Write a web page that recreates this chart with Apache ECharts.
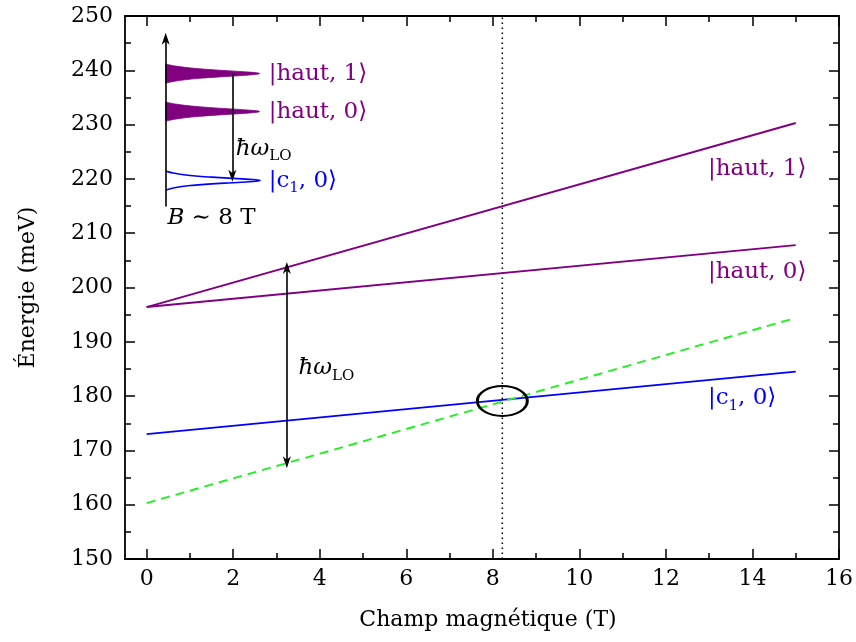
<!DOCTYPE html>
<html><head><meta charset="utf-8">
<script src="https://cdn.jsdelivr.net/npm/echarts@6/dist/echarts.min.js"></script>
<style>html,body{margin:0;padding:0;background:#fff}#c{width:856px;height:642px}</style>
</head><body><div id="c"></div>
<script>
// ---- data ----
const xLine = [0, 15];
const haut1 = [196.4, 230.3];
const haut0 = [196.4, 207.8];
const c1 = [173.0, 184.5];
const lineLO = [160.3, 194.4];           // green dashed (c1 + ħω_LO shift)
const crossField = 8.22;                  // dotted vertical line (T)
const crossEnergy = 179.1;                // ellipse centre (meV)
const xMajor = [0, 2, 4, 6, 8, 10, 12, 14, 16];
const xMinor = [1, 3, 5, 7, 9, 11, 13, 15];
const arrowField = 3.24;                  // double arrow position
const arrowLow = 167.8, arrowHigh = 203.6;
// inset
const peakEnergies = [239.4, 232.4, 219.7];
const peakFilled = [1, 1, 0];
const peakColors = ['#800080', '#800080', '#0000ff'];
const insetAxisX = 0.44, insetAxisLow = 214.9, insetAxisHigh = 245.8;
const peakTipX = 2.61;
const insetArrowX = 1.98, insetArrowFrom = 239.4, insetArrowTo = 220.6;
// text annotations
const labelX = [12.97, 12.97, 12.97, 2.82, 2.82, 2.82, 2.06, 3.51, 0.48];
const labelY = [221.8, 202.9, 179.6, 239.4, 232.4, 219.6, 225.5, 185.1, 212.8];
const labelText = [
  '{m||haut, 1⟩}', '{m||haut, 0⟩}', '{m||c}{s|1}{m|, 0⟩}',
  '{m||haut, 1⟩}', '{m||haut, 0⟩}', '{m||c}{s|1}{m|, 0⟩}',
  '{i|ħω}{s|LO}', '{i|ħω}{s|LO}', '{i|B}{m| ∼ 8 T}'
];
const labelColor = ['#800080', '#800080', '#0000ff', '#800080', '#800080', '#0000ff', '#000', '#000', '#000'];

// ---- chart ----
const FONT = 'DejaVu Serif';
const chart = echarts.init(document.getElementById('c'), null, {renderer: 'canvas'});
const stealth = 'path://M0,14 L5,0 L10,14 L5,10 Z';
const axisLineStyle = {color: '#000', width: 1.8};

function xAxisDef(pos, major, showLine, showLabel) {
  return {
    type: 'value', min: -0.5, max: 16, position: pos,
    axisLine: {show: showLine, onZero: false, lineStyle: axisLineStyle},
    axisTick: {show: true, inside: true, length: major ? 10 : 6, customValues: major ? xMajor : xMinor, lineStyle: {color: '#000', width: 1.5}},
    axisLabel: {show: showLabel, customValues: xMajor, margin: 9, color: '#000', fontFamily: FONT, fontSize: 22},
    splitLine: {show: false},
    name: showLabel ? 'Champ magnétique (T)' : '', nameLocation: 'middle', nameGap: 50,
    nameTextStyle: {color: '#000', fontFamily: FONT, fontSize: 22, padding: [0, 0, 0, 12]}
  };
}
function yAxisDef(pos, showLabel) {
  return {
    type: 'value', min: 150, max: 250, interval: 10, position: pos,
    axisLine: {show: true, onZero: false, lineStyle: axisLineStyle},
    axisTick: {show: true, inside: true, length: 10, lineStyle: {color: '#000', width: 1.5}},
    minorTick: {show: true, splitNumber: 2, length: 6, lineStyle: {color: '#000', width: 1.5}},
    axisLabel: {show: showLabel, margin: 12, color: '#000', fontFamily: FONT, fontSize: 22},
    splitLine: {show: false},
    name: showLabel ? 'Énergie (meV)' : '', nameLocation: 'middle', nameGap: 86,
    nameTextStyle: {color: '#000', fontFamily: FONT, fontSize: 22}
  };
}

const richStyles = {
  m: {fontFamily: FONT, fontSize: 23, lineHeight: 30, verticalAlign: 'middle'},
  s: {fontFamily: FONT, fontSize: 15, lineHeight: 16, verticalAlign: 'bottom'},
  i: {fontFamily: FONT, fontSize: 23, lineHeight: 30, fontStyle: 'italic', verticalAlign: 'middle'}
};

function lineSeries(ys, color, type, name) {
  return {
    type: 'line', name, data: xLine.map((x, i) => [x, ys[i]]), symbol: 'none', silent: true,
    lineStyle: {color, width: 1.9, type}, z: 3
  };
}

const option = {
  animation: false,
  grid: {left: 125, right: 14, top: 16, bottom: 83, containLabel: false},
  xAxis: [xAxisDef('bottom', true, true, true), xAxisDef('bottom', false, false, false),
          xAxisDef('top', true, true, false), xAxisDef('top', false, false, false)],
  yAxis: [yAxisDef('left', true), yAxisDef('right', false)],
  series: [
    lineSeries(haut1, '#800080', 'solid', 'haut1'),
    lineSeries(haut0, '#800080', 'solid', 'haut0'),
    lineSeries(c1, '#0000ff', 'solid', 'c1'),
    lineSeries(lineLO, '#22f022', [9, 6], 'LO'),
    {
      type: 'line', data: [[crossField, 150], [crossField, 250]], symbol: 'none', silent: true,
      lineStyle: {color: '#000', width: 1.5, type: [1.5, 3.5]}, z: 2
    },
    {
      type: 'custom', silent: true, z: 4,
      data: [[crossField, crossEnergy]],
      renderItem: function (params, api) {
        const c = api.coord([api.value(0), api.value(1)]);
        return {type: 'circle', x: c[0], y: c[1], scaleX: 25 / 15, scaleY: 1,
          shape: {cx: 0, cy: 0, r: 15},
          style: {fill: 'none', stroke: '#000', lineWidth: 1.8, strokeNoScale: true}};
      }
    },
    {
      type: 'custom', silent: true, z: 4,
      data: peakEnergies.map((e, i) => [e, peakFilled[i], i]),
      renderItem: function (params, api) {
        const e = api.value(0), filled = api.value(1), idx = api.value(2);
        const base = api.coord([insetAxisX, e]);
        const tip = api.coord([peakTipX, e]);
        const H = tip[0] - base[0];
        const S = 9.6, g = filled ? 4.6 : 3.8;
        const L = y => g * g / (y * y + g * g);
        const L0 = L(S);
        const pts = [];
        for (let k = 0; k <= 80; k++) {
          const yo = -S + (2 * S) * k / 80;
          pts.push([base[0] + H * (L(yo) - L0) / (1 - L0), base[1] + yo]);
        }
        if (filled) {
          return {type: 'polygon', shape: {points: pts}, style: {fill: peakColors[idx], stroke: peakColors[idx], lineWidth: 0.8}};
        }
        return {type: 'polyline', shape: {points: pts}, style: {fill: 'none', stroke: peakColors[idx], lineWidth: 1.6}};
      }
    },
    {
      type: 'line', data: [], silent: true, z: 5,
      markLine: {
        silent: true, animation: false, symbolSize: [8, 12],
        label: {show: false}, emphasis: {disabled: true},
        lineStyle: {color: '#000', width: 1.6, type: 'solid'},
        data: [
          [{coord: [arrowField, arrowLow], symbol: stealth}, {coord: [arrowField, arrowHigh], symbol: stealth}],
          [{coord: [insetAxisX, insetAxisLow], symbol: 'none'}, {coord: [insetAxisX, insetAxisHigh], symbol: stealth}],
          [{coord: [insetArrowX, insetArrowFrom], symbol: 'none'}, {coord: [insetArrowX, insetArrowTo], symbol: stealth}]
        ]
      }
    },
    {
      type: 'custom', silent: true, z: 6,
      data: labelX.map((x, i) => [x, labelY[i], i]),
      renderItem: function (params, api) {
        const i = api.value(2);
        const p = api.coord([api.value(0), api.value(1)]);
        const rich = {};
        for (const k in richStyles) rich[k] = Object.assign({fill: labelColor[i]}, richStyles[k]);
        return {type: 'text', x: p[0], y: p[1],
          style: {text: labelText[i], rich: rich, fill: labelColor[i], font: '23px ' + FONT,
            align: 'left', verticalAlign: 'middle'}};
      }
    }
  ]
};
chart.setOption(option);
</script></body></html>
